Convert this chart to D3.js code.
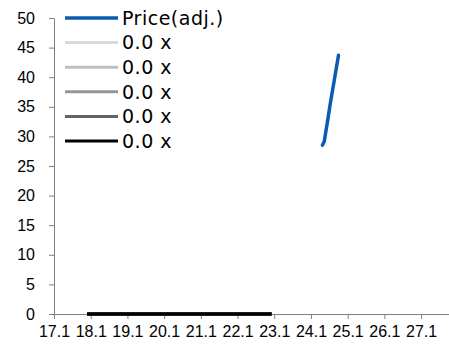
<!DOCTYPE html>
<html>
<head>
<meta charset="utf-8">
<script src="https://cdn.jsdelivr.net/npm/d3@7"></script>
<style>
  html, body { margin: 0; padding: 0; background: #fff; }
  svg { display: block; }
</style>
</head>
<body>
<svg id="chart" width="449" height="350"></svg>
<script>
// Adjusted price history (x = year.month label position)
const priceX = [24.41, 24.46, 24.55, 24.62, 24.68, 24.85];
const priceY = [28.5, 29.1, 32.5, 35.3, 37.5, 43.7];

// Valuation multiple bands (all flat at 0.0 x)
const bandX = [18.0, 23.03];
const bandValues = [
  [0, 0],
  [0, 0],
  [0, 0],
  [0, 0],
  [0, 0]
];
const bandLabels = ["0.0 x", "0.0 x", "0.0 x", "0.0 x", "0.0 x"];
const bandColors = ["#d9d9d9", "#bfbfbf", "#969696", "#646464", "#000000"];

const xTicks = [17.1, 18.1, 19.1, 20.1, 21.1, 22.1, 23.1, 24.1, 25.1, 26.1, 27.1];
const yTicks = [0, 5, 10, 15, 20, 25, 30, 35, 40, 45, 50];

const svg = d3.select("#chart");
const x = d3.scaleLinear().domain([17.1, 27.86]).range([54, 449]);
const y = d3.scaleLinear().domain([0, 50]).range([314, 18]);

const axisColor = "#7f7f7f";

// Y axis
const gy = svg.append("g")
  .attr("transform", `translate(${x(17.1)},0)`)
  .call(d3.axisLeft(y).tickValues(yTicks).tickSize(5).tickSizeOuter(0).tickPadding(14));
gy.selectAll("path, line").attr("stroke", axisColor);
gy.selectAll("text")
  .attr("font-family", "Liberation Sans, Arial, sans-serif")
  .attr("font-size", 16).attr("fill", "#000");

// X axis
const gx = svg.append("g")
  .attr("transform", `translate(0,${y(0)})`)
  .call(d3.axisBottom(x).tickValues(xTicks).tickFormat(d3.format(".1f")).tickSize(5).tickSizeOuter(0).tickPadding(7));
gx.selectAll("path, line").attr("stroke", axisColor);
gx.selectAll("text")
  .attr("font-family", "Liberation Sans, Arial, sans-serif")
  .attr("font-size", 16).attr("fill", "#000");

const line = d3.line().x(d => x(d[0])).y(d => y(d[1]));

// Multiple bands
bandValues.forEach((vals, i) => {
  svg.append("path")
    .datum(bandX.map((xv, j) => [xv, vals[j]]))
    .attr("d", line)
    .attr("fill", "none")
    .attr("stroke", bandColors[i])
    .attr("stroke-width", 3.5);
});

// Price line
svg.append("path")
  .datum(priceX.map((xv, j) => [xv, priceY[j]]))
  .attr("d", line)
  .attr("fill", "none")
  .attr("stroke", "#0a5cb0")
  .attr("stroke-width", 3.5)
  .attr("stroke-linecap", "round")
  .attr("stroke-linejoin", "round");

// Legend
const legendItems = [{ label: "Price(adj.)", color: "#0a5cb0", w: 3.5 }]
  .concat(bandLabels.map((l, i) => ({ label: l, color: bandColors[i], w: 3 })));
const legend = svg.append("g");
legendItems.forEach((it, i) => {
  const cy = 18 + i * 24.6;
  legend.append("line")
    .attr("x1", 65).attr("x2", 118).attr("y1", cy).attr("y2", cy)
    .attr("stroke", it.color).attr("stroke-width", it.w);
  legend.append("text")
    .attr("x", 122).attr("y", cy).attr("dy", "0.36em")
    .attr("font-family", "DejaVu Sans, Verdana, sans-serif")
    .attr("font-size", 19).attr("letter-spacing", 0.5).attr("fill", "#000")
    .text(it.label);
});
</script>
</body>
</html>
